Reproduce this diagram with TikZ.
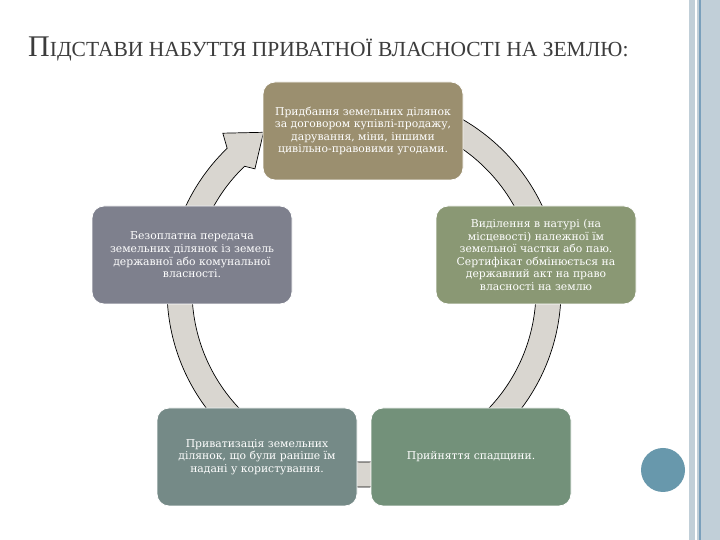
\documentclass[tikz,border=0pt]{standalone}
\usepackage{fontspec}
\setmainfont{DejaVu Serif}
\newfontfamily\titlefont{Liberation Serif}

\definecolor{boxtop}{RGB}{155,143,111}
\definecolor{boxleft}{RGB}{126,128,141}
\definecolor{boxright}{RGB}{138,152,116}
\definecolor{boxbl}{RGB}{117,138,135}
\definecolor{boxbr}{RGB}{115,145,122}
\definecolor{ringgrey}{RGB}{217,214,208}
\definecolor{sidebar}{RGB}{193,207,216}
\definecolor{sideblue}{RGB}{122,160,188}
\definecolor{dotblue}{RGB}{104,152,172}
\definecolor{titlegrey}{RGB}{60,60,60}

\tikzset{
  stagebox/.style={rectangle, rounded corners=12pt, minimum width=200pt,
    minimum height=98pt, draw=white, line width=0.8pt, text=white,
    align=center, inner sep=4pt, font=\fontsize{10.8}{12.6}\selectfont},
  ringband/.style={fill=ringgrey, draw=black, line width=0.7pt}
}

\begin{document}
\begin{tikzpicture}[x=1pt,y=1pt]
		\useasboundingbox[fill=white] (0,0) rectangle (720,540);
		% side decoration
		\fill[sidebar] (689,0) rectangle (720,540);
		\fill[white] (695,0) rectangle (697,540);
		\fill[sideblue] (699,0) rectangle (700.5,540);
		\fill[dotblue] (663,70) circle (22);
		
		% title
		\node[anchor=base west, text=titlegrey, inner sep=0pt] (title) at (28,483)
		  {\titlefont\fontsize{30}{30}\selectfont П\fontsize{21.5}{21.5}\selectfont ІДСТАВИ НАБУТТЯ ПРИВАТНОЇ ВЛАСНОСТІ НА ЗЕМЛЮ:};
		
		% circular arrow
		\coordinate (ctr) at (364,250);
		\draw[ringband] ([shift={(95:197)}]ctr) arc[start angle=95, end angle=-226, radius=197]
		  -- ([shift={(132:211)}]ctr) -- ([shift={(122.5:187)}]ctr)
		  -- ([shift={(132:163)}]ctr) -- ([shift={(134:172)}]ctr)
		  arc[start angle=-226, end angle=95, radius=172] -- cycle;
		
		\node[stagebox, fill=boxtop] (buy) at (363,409)
		  {Придбання земельних ділянок\\за договором купівлі-продажу,\\дарування, міни, іншими\\цивільно-правовими угодами.};
		\node[stagebox, fill=boxright] (share) at (536,285)
		  {Виділення в натурі (на\\місцевості) належної їм\\земельної частки або паю.\\Сертифікат обмінюється на\\державний акт на право\\власності на землю};
		\node[stagebox, fill=boxbr] (heir) at (471,83)
		  {Прийняття спадщини.};
		\node[stagebox, fill=boxbl] (priv) at (257,83)
		  {Приватизація земельних\\ділянок, що були раніше їм\\надані у користування.};
		\node[stagebox, fill=boxleft] (free) at (192,285)
		  {Безоплатна передача\\земельних ділянок із земель\\державної або комунальної\\власності.};
\end{tikzpicture}
\end{document}
